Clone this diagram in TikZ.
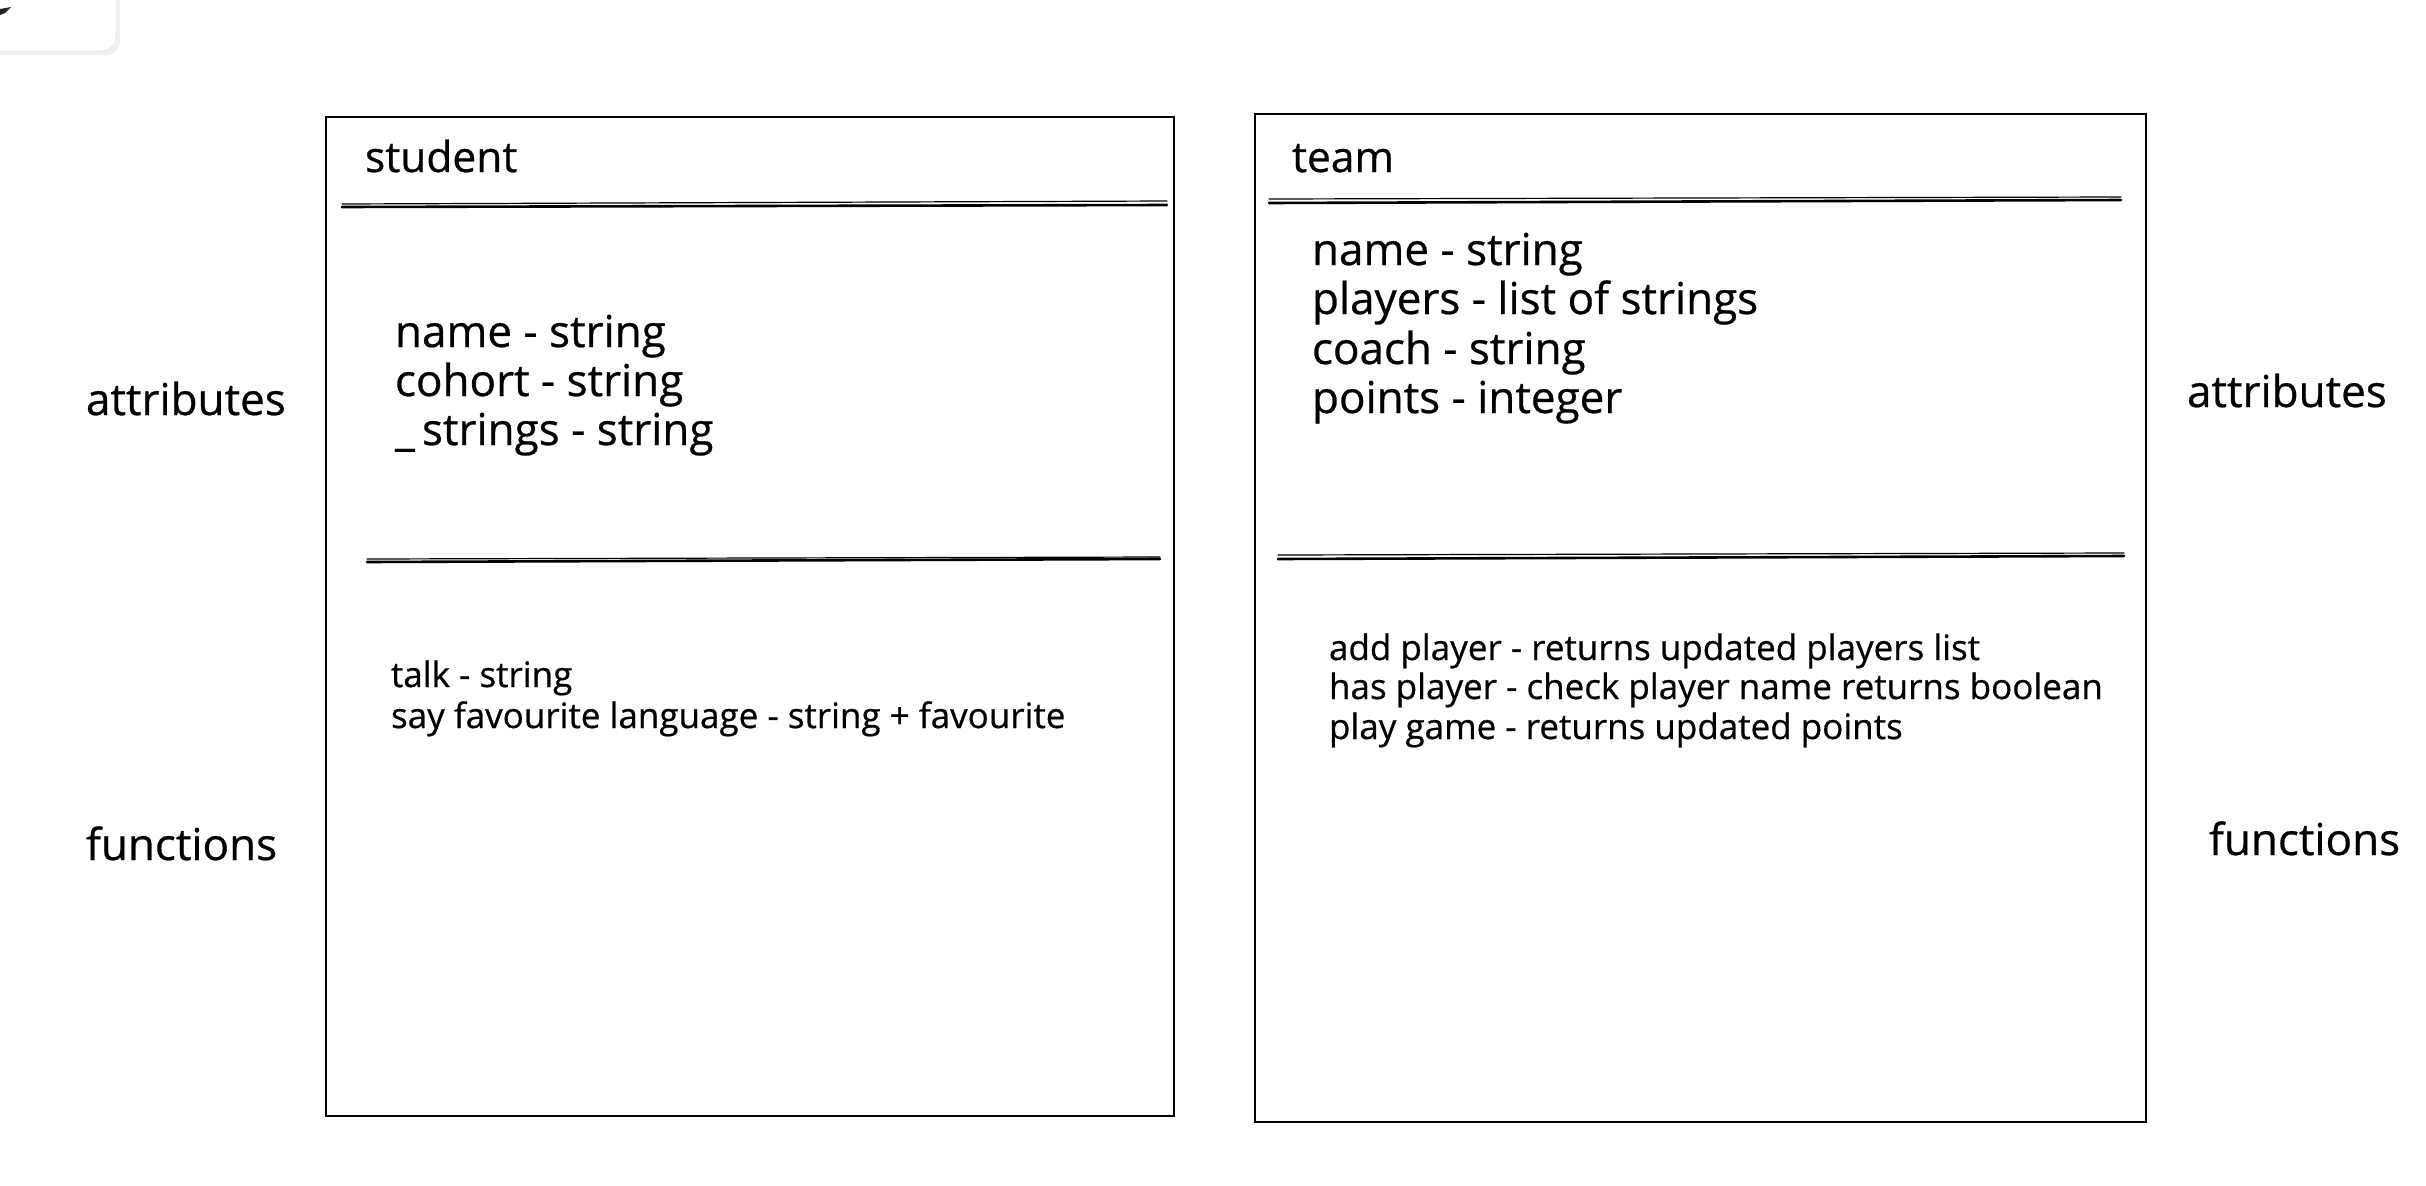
\documentclass[tikz,border=0pt]{standalone}
\usepackage{fontspec}
\setmainfont{Open Sans}[FakeBold=0.6]
\tikzset{
  bigtext/.style={font=\fontsize{44}{50}\selectfont, anchor=base west, inner sep=0pt, outer sep=0pt},
  titletext/.style={font=\fontsize{42.5}{50}\selectfont, anchor=base west, inner sep=0pt, outer sep=0pt},
  smalltext/.style={font=\fontsize{35}{40}\selectfont, anchor=base west, inner sep=0pt, outer sep=0pt},
  classbox/.style={draw, line width=2.4pt, anchor=north west, inner sep=0pt, outer sep=0pt},
  sepline/.style={line width=2.6pt, line cap=round},
  septhin/.style={line width=1.2pt, line cap=round},
}
\begin{document}
\begin{tikzpicture}[x=1pt,y=-1pt]
\useasboundingbox (0,0) rectangle (2426,1186);
% UI remnant at top-left
\fill[black!6, rounded corners=14] (-30,-30) rectangle (120,55);
\filldraw[fill=white, draw=black!8, line width=1pt, rounded corners=14] (-30,-30) rectangle (116,51);
\fill[black!85] (0,9) -- (11,7) -- (5,13) -- (0,15) -- cycle;

% class boxes
\node[classbox, minimum width=848pt, minimum height=999pt] (student) at (326,117) {};
\node[classbox, minimum width=891pt, minimum height=1008pt] (team) at (1255,114) {};

% separators (student)
\draw[sepline] (342,207) -- (1167,205);
\draw[septhin] (342,204) -- (1167,201);
\draw[sepline] (367,562) -- (1160,559);
\draw[septhin] (367,559) -- (1160,557);
% separators (team)
\draw[sepline] (1269,203) -- (2121,200);
\draw[septhin] (1269,199) -- (2121,197);
\draw[sepline] (1278,559) -- (2124,556);
\draw[septhin] (1278,555) -- (2124,553);

% student texts
\node[titletext] (stitle) at (365,172) {student};
\node[bigtext] (sa1) at (395,347) {name - string};
\node[bigtext] (sa2) at (395,396) {cohort - string};
\node[bigtext] (sa3) at (395,445) {\_\,strings - string};
\node[smalltext] (sf1) at (391,687) {talk - string};
\node[smalltext] (sf2) at (391,728) {say favourite language - string + favourite};

% team texts
\node[titletext] (ttitle) at (1292,172) {team};
\node[bigtext] (ta1) at (1312,265) {name - string};
\node[bigtext] (ta2) at (1312,314) {players - list of strings};
\node[bigtext] (ta3) at (1312,364) {coach - string};
\node[bigtext] (ta4) at (1312,413) {points - integer};
\node[smalltext] (tf1) at (1329,660) {add player - returns updated players list};
\node[smalltext] (tf2) at (1329,699) {has player - check player name returns boolean};
\node[smalltext] (tf3) at (1329,739) {play game - returns updated points};

% side labels
\node[bigtext] (lattr) at (86,415) {attributes};
\node[bigtext] (lfunc) at (86,860) {functions};
\node[bigtext] (rattr) at (2187,407) {attributes};
\node[bigtext] (rfunc) at (2209,855) {functions};
\end{tikzpicture}
\end{document}
